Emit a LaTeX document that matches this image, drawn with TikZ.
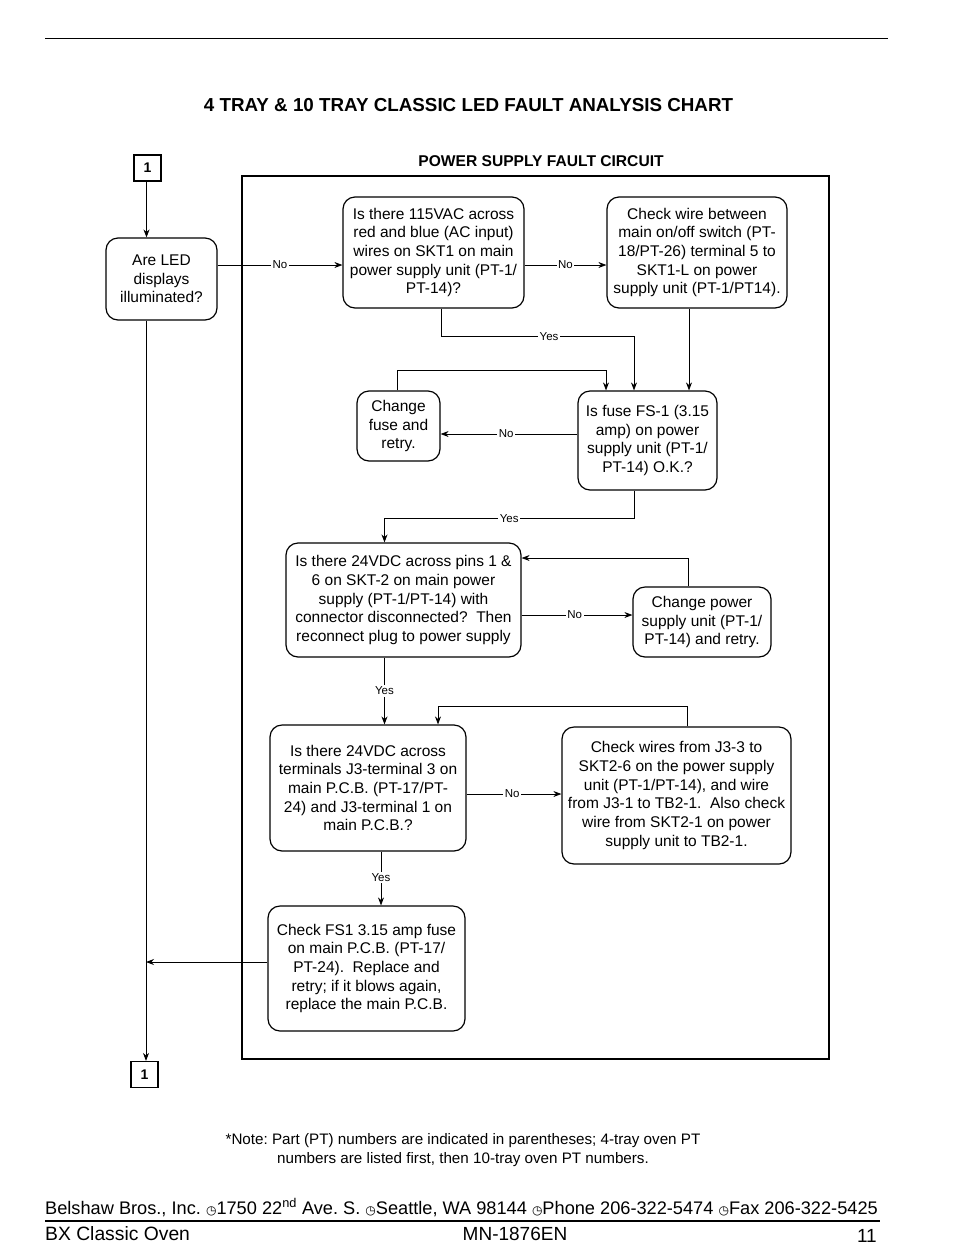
\documentclass[tikz,border=0pt]{standalone}
\usepackage{fontspec}
\setmainfont{Liberation Sans}
\newfontfamily\symfont{DejaVu Sans}
\usetikzlibrary{arrows.meta}
\frenchspacing
\begin{document}
\begin{tikzpicture}[x=1pt,y=-1pt,
  box/.style={draw, rounded corners=12pt, line width=1.2pt, align=center, inner sep=0pt,
              font=\fontsize{15.5}{18.7}\selectfont},
  conn/.style={line width=0.8pt, -{Stealth[length=8pt,width=6pt]}},
  lab/.style={fill=white, inner sep=1.5pt, font=\fontsize{11.5}{13}\selectfont},
  numbox/.style={draw, line width=1.2pt, minimum width=27pt, minimum height=26pt, inner sep=0pt,
              font=\bfseries\fontsize{14}{16}\selectfont},
]
\useasboundingbox (0,0) rectangle (954,1259);
% page rules
\draw[line width=1pt] (45,38) -- (888,38);
\node[font=\bfseries\fontsize{18.8}{22}\selectfont] (title) at (468.5,105) {4 TRAY \& 10 TRAY CLASSIC LED FAULT ANALYSIS CHART};
\node[font=\bfseries\fontsize{15.6}{18}\selectfont] (sub) at (541,161) {POWER SUPPLY FAULT CIRCUIT};
% frame
\draw[line width=1.8pt] (242,176) rectangle (829,1059);

% connector boxes
\node[numbox] (n1) at (147.5,168) {1};
\node[numbox] (n2) at (144.5,1074.5) {1};

% nodes
\node[box, minimum width=111pt, minimum height=82pt] (led) at (161.5,279) {Are LED\\displays\\illuminated?};
\node[box, minimum width=181pt, minimum height=111pt] (q1) at (433.5,252.5) {Is there 115VAC across\\red and blue (AC input)\\wires on SKT1 on main\\power supply unit (PT-1/\\PT-14)?};
\node[box, minimum width=180pt, minimum height=111pt] (c1) at (697,252.5) {Check wire between\\main on/off switch (PT-\\18/PT-26) terminal 5 to\\SKT1-L on power\\supply unit (PT-1/PT14).};
\node[box, minimum width=139pt, minimum height=99pt] (fuse) at (647.5,440.5) {Is fuse FS-1 (3.15\\amp) on power\\supply unit (PT-1/\\PT-14) O.K.?};
\node[box, minimum width=83pt, minimum height=70pt] (chg) at (398.5,426) {Change\\fuse and\\retry.};
\node[box, minimum width=235pt, minimum height=114pt] (q3) at (403.5,600) {Is there 24VDC across pins 1 \&\\6 on SKT-2 on main power\\supply (PT-1/PT-14) with\\connector disconnected?\ \ Then\\reconnect plug to power supply};
\node[box, minimum width=138pt, minimum height=70pt] (cps) at (702,622) {Change power\\supply unit (PT-1/\\PT-14) and retry.};
\node[box, minimum width=196pt, minimum height=126pt] (q4) at (368,788) {Is there 24VDC across\\terminals J3-terminal 3 on\\main P.C.B. (PT-17/PT-\\24) and J3-terminal 1 on\\main P.C.B.?};
\node[box, minimum width=229pt, minimum height=137pt] (cw) at (676.5,795.5) {Check wires from J3-3 to\\SKT2-6 on the power supply\\unit (PT-1/PT-14), and wire\\from J3-1 to TB2-1.\ \ Also check\\wire from SKT2-1 on power\\supply unit to TB2-1.};
\node[box, minimum width=197pt, minimum height=125pt] (fs1) at (366.5,968.5) {Check FS1 3.15 amp fuse\\on main P.C.B. (PT-17/\\PT-24).\ \ Replace and\\retry; if it blows again,\\replace the main P.C.B.};

\coordinate (lcol) at ([xshift=-15.5pt]led.south);

% connectors
\draw[conn] ([xshift=-1pt]n1.south) -- ([xshift=-1pt]n1.south |- led.north);
\draw[conn] (lcol) -- (lcol |- n2.north);
\draw[conn] ([yshift=14pt]led.east) -- node[lab]{No} ([yshift=-12.5pt]q1.west);
\draw[conn] ([yshift=-12.5pt]q1.east) -- node[lab]{No} ([yshift=-12.5pt]c1.west);
\draw[conn] ([xshift=7.5pt]q1.south) -- ++(0,28) -| node[lab,pos=0.28]{Yes} ([xshift=-13.5pt]fuse.north);
\draw[conn] ([xshift=-8pt]c1.south) -- ([xshift=-8pt]c1.south |- fuse.north);
\draw[conn] ([xshift=-1.5pt]chg.north) -- ++(0,-20) -| ([xshift=-41.5pt]fuse.north);
\draw[conn] ([yshift=6.5pt]fuse.west) -- node[lab,pos=0.52]{No} ([yshift=-8pt]chg.east);
\draw[conn] ([xshift=-13.5pt]fuse.south) -- ++(0,28) -| node[lab,pos=0.25]{Yes} ([xshift=-19pt]q3.north);
\draw[conn] ([yshift=-15pt]q3.east) -- node[lab,pos=0.48]{No} ([yshift=7pt]cps.west);
\draw[conn] ([xshift=-13.5pt]cps.north) |- ([yshift=42pt]q3.east);
\draw[conn] ([xshift=-19pt]q3.south) -- node[lab]{Yes} ([xshift=-19pt]q3.south |- q4.north);
\draw[conn] ([xshift=10.5pt]cw.north) -- ++(0,-20) -| ([xshift=70pt]q4.north);
\draw[conn] ([yshift=-6pt]q4.east) -- node[lab,pos=0.48]{No} ([yshift=1.5pt]cw.west);
\draw[conn] ([xshift=13pt]q4.south) -- node[lab,pos=0.48]{Yes} ([xshift=13pt]q4.south |- fs1.north);
\draw[conn] ([yshift=6.5pt]fs1.west) -- ([yshift=6.5pt]fs1.west -| lcol);

% note and footer
\node[align=center, font=\fontsize{15.2}{19}\selectfont] (note) at (463,1150.5) {*Note: Part (PT) numbers are indicated in parentheses; 4-tray oven PT\\numbers are listed first, then 10-tray oven PT numbers.};
\node[anchor=base west, font=\fontsize{18.2}{20}\selectfont, inner sep=0pt] (addr) at (45,1214) {Belshaw Bros., Inc. {\symfont\fontsize{12}{14}\selectfont ◷}1750 22\textsuperscript{nd} Ave. S. {\symfont\fontsize{12}{14}\selectfont ◷}Seattle, WA 98144 {\symfont\fontsize{12}{14}\selectfont ◷}Phone 206-322-5474 {\symfont\fontsize{12}{14}\selectfont ◷}Fax 206-322-5425};
\draw[line width=1.2pt] (45,1221) -- (880,1221);
\node[anchor=base west, font=\fontsize{19.3}{22}\selectfont, inner sep=0pt] (oven) at (45,1240) {BX Classic Oven};
\node[anchor=base, font=\fontsize{19}{22}\selectfont, inner sep=0pt] (mn) at (515,1240) {MN-1876EN};
\node[anchor=base east, font=\fontsize{19}{22}\selectfont, inner sep=0pt] (pg) at (877,1242) {11};
\end{tikzpicture}
\end{document}
